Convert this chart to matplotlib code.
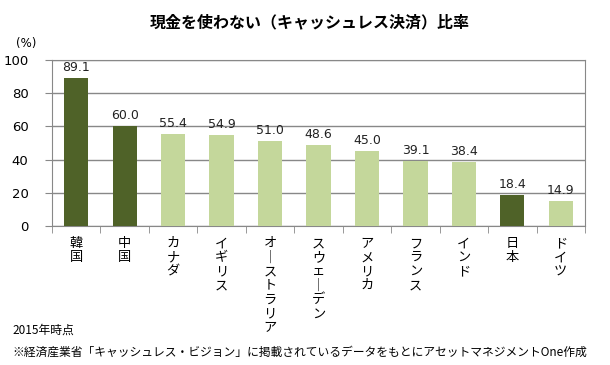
import matplotlib.pyplot as plt
import numpy as np

plt.rcParams['font.family'] = ['Noto Sans CJK JP', 'DejaVu Sans']

countries = ['韓国', '中国', 'カナダ', 'イギリス', 'オーストラリア', 'スウェーデン',
             'アメリカ', 'フランス', 'インド', '日本', 'ドイツ']
values = [89.1, 60.0, 55.4, 54.9, 51.0, 48.6, 45.0, 39.1, 38.4, 18.4, 14.9]
highlight = ['韓国', '中国', '日本']

dark = '#4F6228'
light = '#C4D79B'
colors = [dark if c in highlight else light for c in countries]

# stacked vertical labels, long vowel mark turned upright
def vertical(s):
    return '\n'.join('｜' if ch == 'ー' else ch for ch in s)

fig = plt.figure(figsize=(6.1, 3.65), dpi=100)
ax = fig.add_axes([52/610, 1-226/365, 533/610, 166/365])

x = np.arange(len(countries))
ax.bar(x, values, width=0.5, color=colors, zorder=3)
for xi, v in zip(x, values):
    ax.text(xi, v + 2.5, f'{v:.1f}', ha='center', va='bottom', fontsize=9,
            family='DejaVu Sans', color='#222222')

ax.set_xlim(-0.5, len(countries) - 0.5)
ax.set_ylim(0, 100)
ax.set_yticks(range(0, 101, 20))
ax.set_yticklabels([str(v) for v in range(0, 101, 20)], fontsize=9.5, family='DejaVu Sans')
ax.yaxis.grid(True, color='#888888', linewidth=1, zorder=0)
for sp in ax.spines.values():
    sp.set_color('#888888')
ax.tick_params(axis='y', length=5, color='#888888', pad=12)

ax.set_xticks(x)
ax.set_xticklabels([vertical(c) for c in countries], fontsize=9.5, linespacing=1.1, va='top')
ax.tick_params(axis='x', length=0, pad=8)
ax.set_xticks(np.arange(-0.5, len(countries), 1), minor=True)
ax.tick_params(axis='x', which='minor', length=5, color='#888888')

fig.text(0.508, 0.94, '現金を使わない（キャッシュレス決済）比率', ha='center', va='center',
         fontsize=11.5, fontweight='bold')
fig.text(16/610, 1-44/365, '(%)', fontsize=8.5, va='center', family='DejaVu Sans')
fig.text(12/610, 1-330/365, '2015年時点', fontsize=8.5, va='center')
fig.text(12/610, 1-352/365,
         '※経済産業省「キャッシュレス・ビジョン」に掲載されているデータをもとにアセットマネジメントOne作成',
         fontsize=8.5, va='center')

fig.savefig('out.png', dpi=100)
